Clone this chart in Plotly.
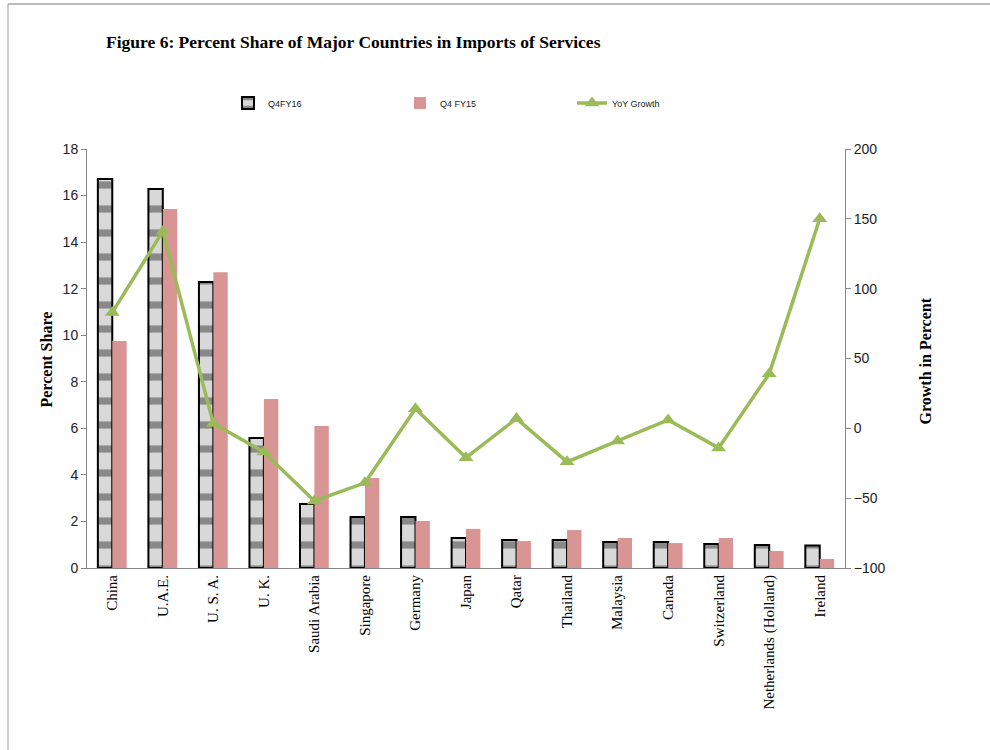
import plotly.graph_objects as go

categories = ["China", "U.A.E.", "U. S. A.", "U. K.", "Saudi Arabia", "Singapore", "Germany",
              "Japan", "Qatar", "Thailand", "Malaysia", "Canada", "Switzerland",
              "Netherlands (Holland)", "Ireland"]
q4fy16 = [16.71, 16.28, 12.29, 5.58, 2.75, 2.19, 2.19, 1.29, 1.20, 1.20, 1.12, 1.12, 1.03, 0.99, 0.97]
q4fy15 = [9.75, 15.42, 12.71, 7.26, 6.10, 3.87, 2.02, 1.68, 1.16, 1.63, 1.29, 1.07, 1.29, 0.73, 0.39]
yoy = [83, 141, 3.5, -17, -52, -39, 14, -21, 7, -24, -9, 6, -14, 39, 150]

L, R, T, B = 87, 845, 149, 568
W, H = 990, 750
pw, ph = R - L, B - T

fig = go.Figure()
fig.add_trace(go.Bar(
    x=categories, y=q4fy16, name="Q4FY16",
    marker=dict(color="#c8c8c8", line=dict(color="black", width=2),
                pattern=dict(shape="-", fgcolor="#3a3a3a", bgcolor="#d8d8d8", size=24, solidity=0.3)),
))
fig.add_trace(go.Bar(
    x=categories, y=q4fy15, name="Q4 FY15",
    marker=dict(color="#d99594", line=dict(width=0)),
))
fig.add_trace(go.Scatter(
    x=categories, y=yoy, name="YoY Growth", yaxis="y2", mode="lines+markers",
    line=dict(color="#9bbb59", width=3.5),
    marker=dict(symbol="triangle-up", size=13, color="#9bbb59"),
))

tickfont = dict(family="Liberation Sans", size=14, color="#222")
fig.update_layout(
    width=W, height=H,
    margin=dict(l=L, r=W - R, t=T, b=H - B),
    paper_bgcolor="white", plot_bgcolor="white",
    barmode="group", bargap=0.43, bargroupgap=0.0,
    showlegend=True,
    legend=dict(orientation="h", x=(228 - L) / pw, y=(B - 103) / ph, xanchor="left", yanchor="middle",
                font=dict(family="Liberation Sans", size=9, color="#222"),
                entrywidth=127, entrywidthmode="pixels", traceorder="normal"),
    title=dict(text="<b>Figure 6: Percent Share of Major Countries in Imports of Services</b>",
               x=106 / W, xanchor="left", y=1 - 42 / H, yanchor="middle",
               font=dict(family="Liberation Serif", size=17.5, color="black")),
    xaxis=dict(range=[-0.5, len(categories) - 0.5], showline=True, linecolor="#868686", linewidth=1,
               ticks="", tickangle=-90,
               tickfont=dict(family="Liberation Serif", size=15, color="black"),
               showgrid=False, automargin=False),
    yaxis=dict(range=[0, 18], dtick=2, showline=True, linecolor="#868686", linewidth=1,
               ticks="outside", ticklen=5, tickcolor="#868686", showgrid=False,
               tickfont=tickfont, zeroline=False, automargin=False),
    yaxis2=dict(range=[-100, 200], dtick=50, overlaying="y", side="right", showline=True,
                linecolor="#868686", linewidth=1, ticks="outside", ticklen=5, tickcolor="#868686",
                showgrid=False, zeroline=False, tickfont=tickfont, automargin=False),
)

fig.add_annotation(text="<b>Percent Share</b>", xref="paper", yref="paper",
                   x=(35 - L) / pw, y=(B - 360) / ph, textangle=-90, showarrow=False,
                   font=dict(family="Liberation Serif", size=16, color="black"))
fig.add_annotation(text="<b>Growth in Percent</b>", xref="paper", yref="paper",
                   x=(935 - L) / pw, y=(B - 361) / ph, textangle=-90, showarrow=False,
                   font=dict(family="Liberation Serif", size=16, color="black"))

# outer frame lines of the original figure
fig.add_shape(type="line", xref="paper", yref="paper",
              x0=(8 - L) / pw, x1=(W - L) / pw, y0=(B - 4) / ph, y1=(B - 4) / ph,
              line=dict(color="#bbbbbb", width=2))
fig.add_shape(type="line", xref="paper", yref="paper",
              x0=(8 - L) / pw, x1=(8 - L) / pw, y0=(B - 4) / ph, y1=(B - H) / ph,
              line=dict(color="#999999", width=1))

fig.write_html("out.html", config={"displayModeBar": False},
               post_script="document.body.style.margin='0';")
